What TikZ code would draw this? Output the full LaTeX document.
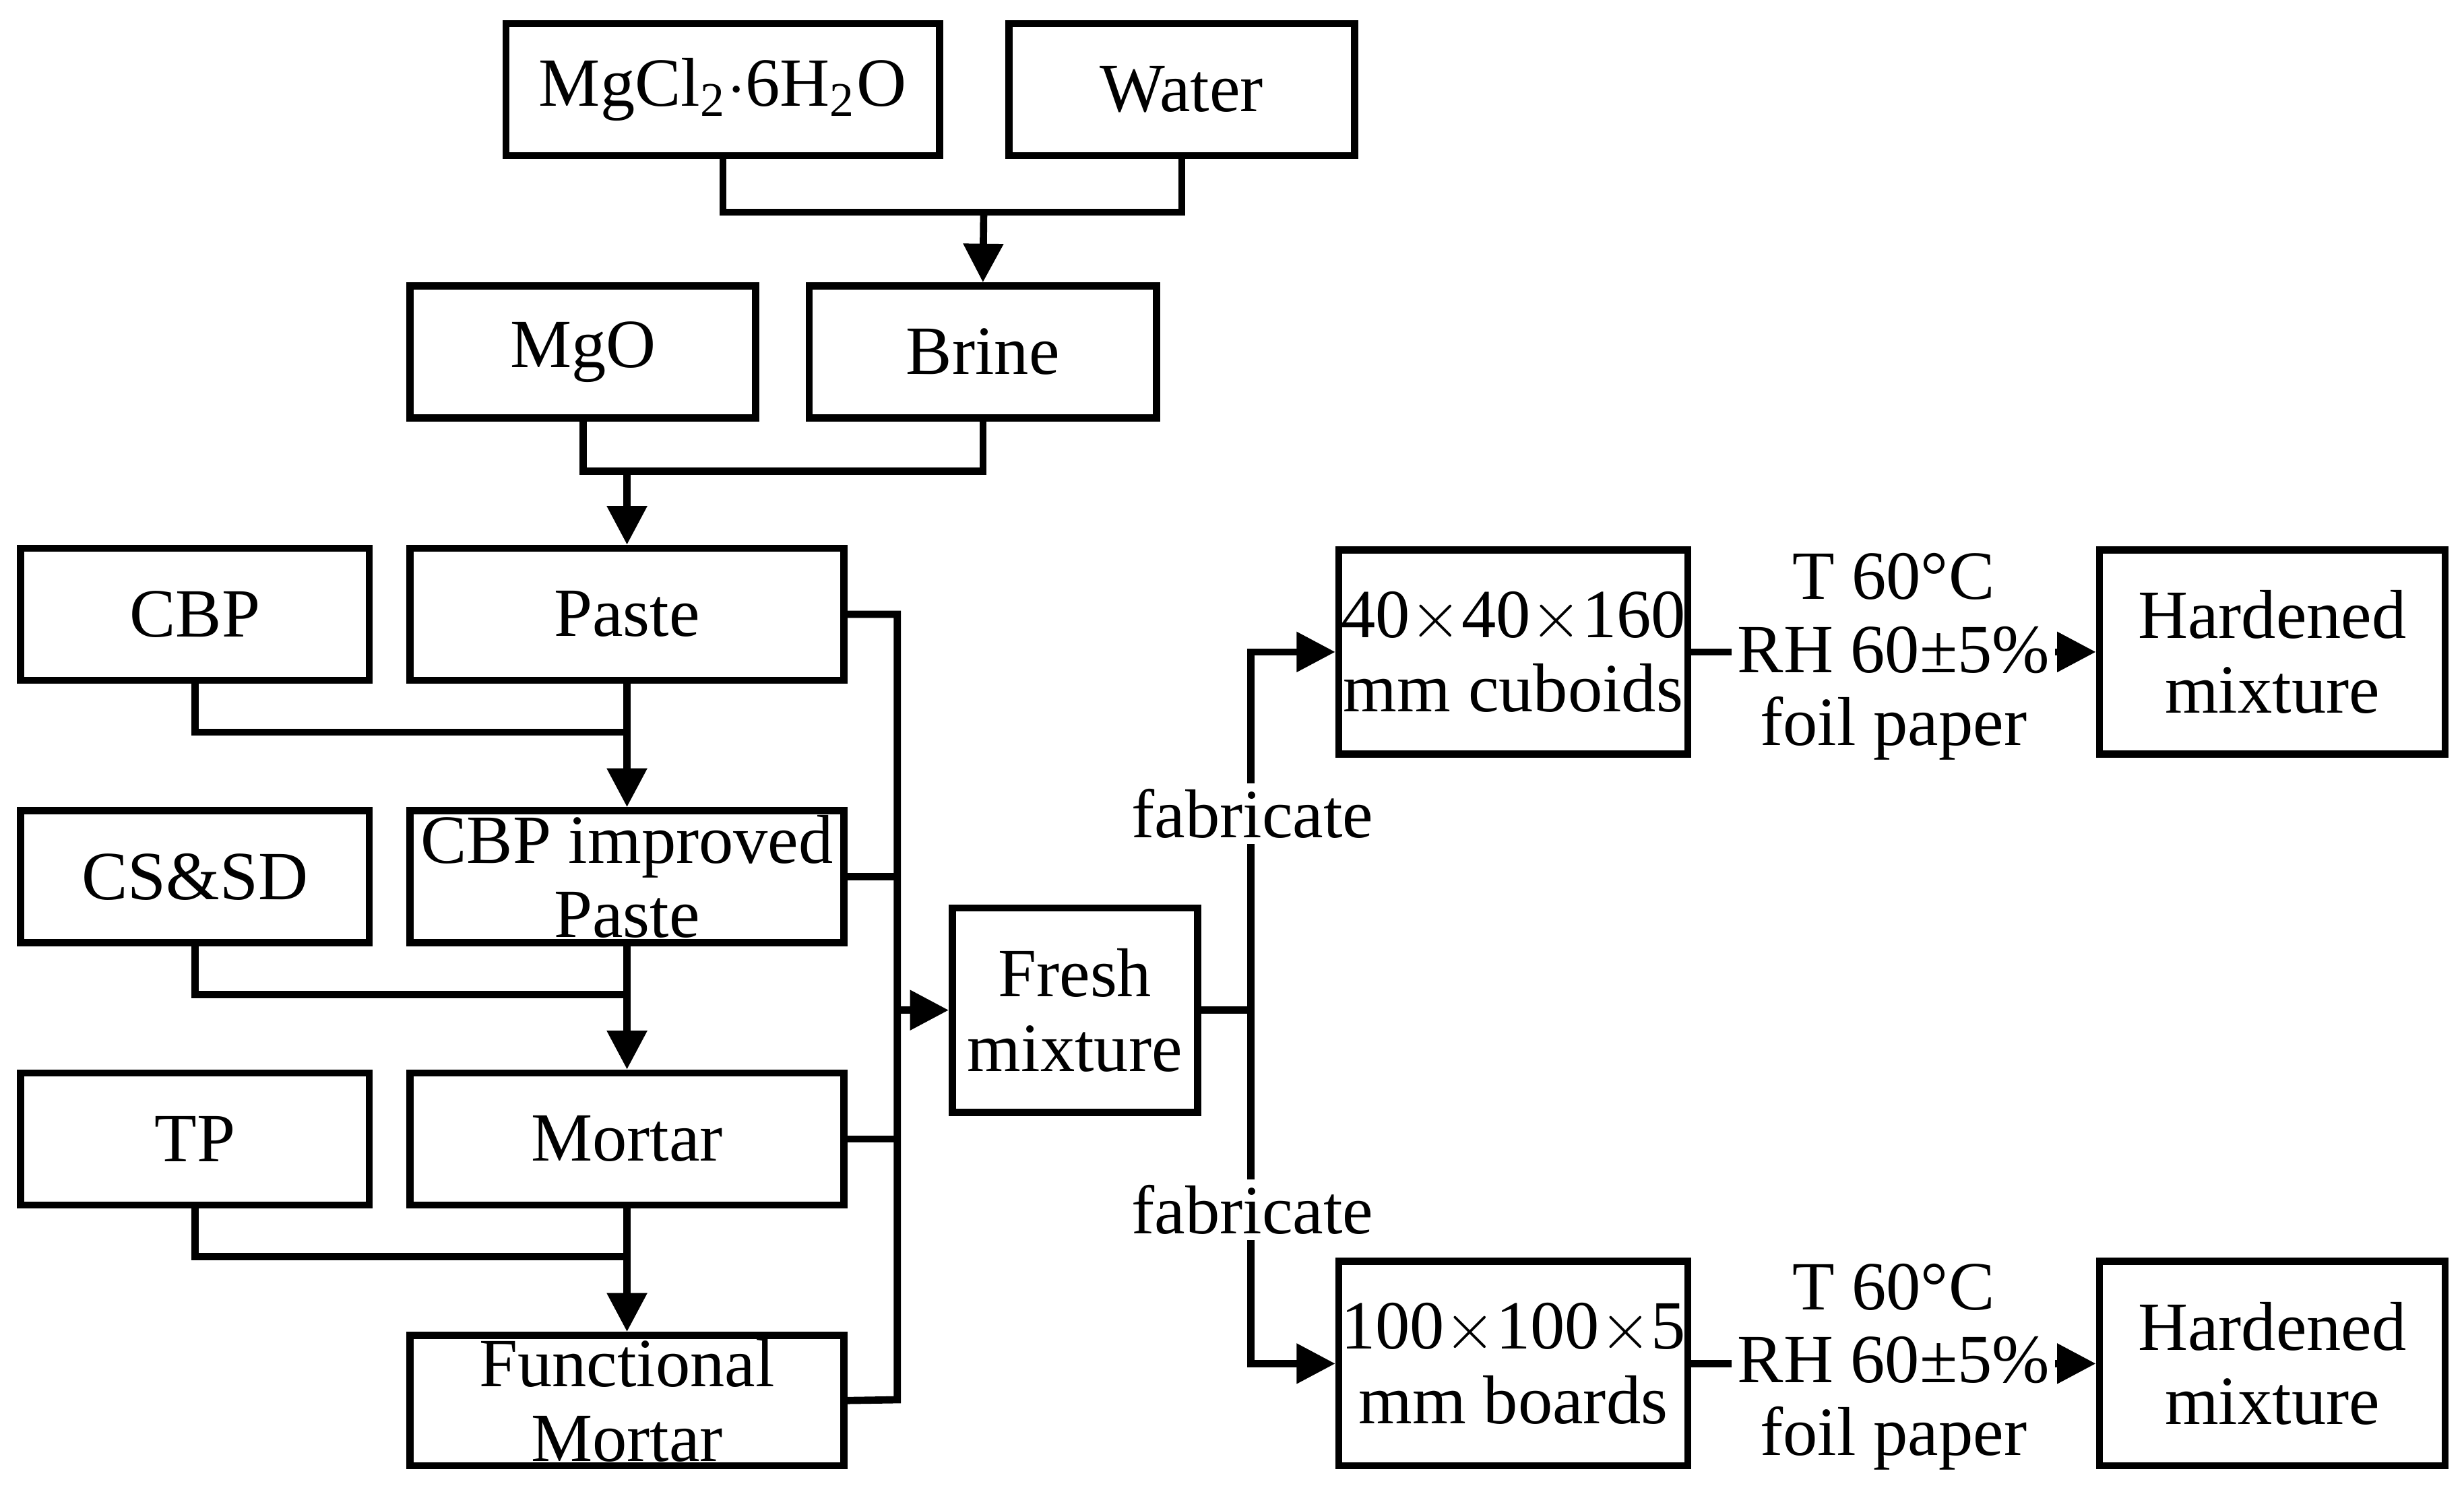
\documentclass[tikz,border=0pt]{standalone}
\usepackage{fontspec}
\setmainfont{Liberation Serif}
\usetikzlibrary{arrows.meta}
\begin{document}
\begin{tikzpicture}[x=0.01cm,y=-0.01cm,
  box/.style={draw,line width=1.3pt,inner sep=0pt,align=center,
    font=\fontsize{12.5}{13.5}\selectfont},
  ln/.style={line width=1.3pt},
  arr/.style={ln,-{Triangle[length=7pt,width=7pt]}},
  lbl/.style={fill=white,inner sep=1pt,align=center,
    font=\fontsize{12.5}{13.2}\selectfont}]
\useasboundingbox (0,0) rectangle (1568,951);
\newcommand{\bx}[6]{\node[box,minimum width={(#4-#2)*0.01cm},minimum height={(#5-#3)*0.01cm}] (#1) at ({(#2+#4)/2},{(#3+#5)/2}) {#6};}
\bx{mgcl}{322}{15}{598}{99}{MgCl\textsubscript{2}$\cdot$6H\textsubscript{2}O}
\bx{water}{642}{15}{862}{99}{Water}
\bx{mgo}{261}{182}{481}{266}{MgO}
\bx{brine}{515}{182}{736}{266}{Brine}
\bx{cbp}{13}{349}{235}{433}{CBP}
\bx{paste}{261}{349}{537}{433}{Paste}
\bx{cssd}{13}{516}{235}{600}{CS\&SD}
\bx{cbpp}{261}{516}{537}{600}{CBP improved\\Paste}
\bx{tp}{13}{683}{235}{767}{TP}
\bx{mortar}{261}{683}{537}{767}{Mortar}
\bx{fmortar}{261}{850}{537}{933}{Functional\\Mortar}
\bx{fresh}{606}{578}{762}{708}{Fresh\\mixture}
\bx{cub}{852}{350}{1074}{480}{40$\times$40$\times$160\\mm cuboids}
\bx{hard1}{1336}{350}{1556}{480}{Hardened\\mixture}
\bx{brd}{852}{803}{1074}{933}{100$\times$100$\times$5\\mm boards}
\bx{hard2}{1336}{803}{1556}{933}{Hardened\\mixture}
% brine
\draw[ln] (mgcl.south) |- (626,135) -| (water.south);
\draw[arr] (626,135) -- (brine.north);
% paste
\draw[ln] (mgo.south) |- (399,300) -| (brine.south);
\draw[arr] (399,300) -- (paste.north);
% additions
\draw[ln] (cbp.south) |- (399,466);
\draw[arr] (paste.south) -- (cbpp.north);
\draw[ln] (cssd.south) |- (399,633);
\draw[arr] (cbpp.south) -- (mortar.north);
\draw[ln] (tp.south) |- (399,800);
\draw[arr] (mortar.south) -- (fmortar.north);
% bus to fresh
\draw[ln] (paste.east) -| (571,891) -- (fmortar.east);
\draw[ln] (cbpp.east) -- (571,558);
\draw[ln] (mortar.east) -- (571,725);
\draw[arr] (571,643) -- (fresh.west);
% fabricate
\draw[ln] (fresh.east) -- (796,643);
\draw[arr] (796,643) |- (cub.west);
\draw[arr] (796,643) |- (brd.west);
\node[lbl] (fab1) at (797,518) {fabricate};
\node[lbl] (fab2) at (797,770) {fabricate};
% curing
\draw[arr] (cub.east) -- (hard1.west);
\draw[arr] (brd.east) -- (hard2.west);
\node[lbl] (c1) at (1205,418) {T 60°C\\RH 60±5\%\\foil paper};
\node[lbl] (c2) at (1205,870) {T 60°C\\RH 60±5\%\\foil paper};
\end{tikzpicture}
\end{document}
